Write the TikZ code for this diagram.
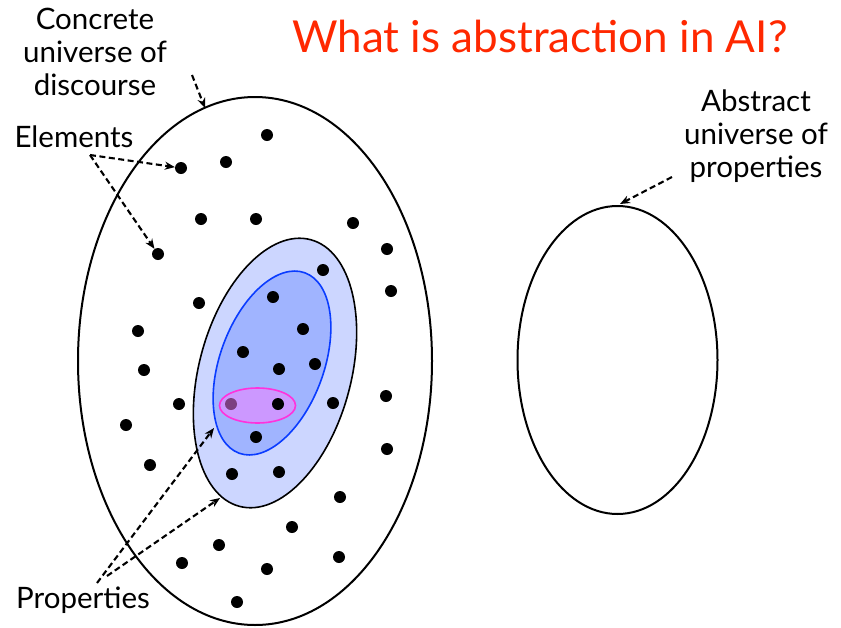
\documentclass[tikz,border=0pt]{standalone}
\usepackage{fontspec}
\setmainfont{Lato}
\usetikzlibrary{arrows.meta}

\definecolor{titlered}{RGB}{255,40,0}
\definecolor{outerprop}{RGB}{204,214,255}
\definecolor{innerprop}{RGB}{160,180,255}
\definecolor{innerline}{RGB}{10,60,255}
\definecolor{pinkline}{RGB}{255,50,220}
\definecolor{pinkfill}{RGB}{248,126,255}

\begin{document}
\begin{tikzpicture}[x=1pt,y=-1pt,>=Stealth,
  dot/.style={circle,fill=black,inner sep=0pt,minimum size=12pt},
  lbl/.style={align=center,font=\fontsize{29.5}{33}\selectfont},
  ptr/.style={-{Stealth[length=10pt,width=8pt]},line width=2.1pt,dash pattern=on 6pt off 3.5pt}]
  \useasboundingbox (0,0) rectangle (841,627);

  \node[text=titlered,font=\fontsize{44}{50}\selectfont] (title) at (540,36) {What is abstraction in AI?};

  % the two universes
  \draw[line width=2pt] (255,361) ellipse [x radius=177,y radius=264];
  \draw[line width=2pt] (617.5,360) ellipse [x radius=100,y radius=154];

  % nested properties
  \draw[line width=1.6pt,fill=outerprop,rotate around={-15:(275,373)}]
    (275,373) ellipse [x radius=76,y radius=138];
  \draw[line width=1.6pt,draw=innerline,fill=innerprop,rotate around={-20:(272,363)}]
    (272,363) ellipse [x radius=52,y radius=96];

  % elements
  \node[dot] (elemA) at (181,168) {};
  \node[dot] (elemB) at (158,254) {};
  \foreach \px/\py in {267/135,226/162,201/219,256/219,353/223,387/249,323/270,391/291,
      199/303,273/297,303/329,138/331,243/352,279/369,315/364,144/370,179/404,333/403,
      386/396,126/425,256/437,387/449,150/465,232/474,279/472,340/497,292/527,219/545,
      182/563,267/569,339/557,237/602}
    \node[dot] at (\px,\py) {};
  \node[dot] (underpink) at (231,404) {};
  \draw[line width=1.6pt,draw=pinkline,fill=pinkfill,fill opacity=0.5]
    (257.5,405.5) ellipse [x radius=38,y radius=17.5];
  \node[dot] (overpink) at (278,404) {};

  % labels
  \node[lbl] (concrete) at (95,52) {Concrete\\universe of\\discourse};
  \node[lbl] (elements) at (74,137) {Elements};
  \node[lbl] (properties) at (83,600) {Properties};
  \node[lbl] (abstract) at (756,136) {Abstract\\universe of\\properties};

  % pointers
  \coordinate (concreteout) at (192,75);
  \coordinate (concretein) at (205,108);
  \coordinate (elemout) at (90,155);
  \coordinate (propoutA) at (97,583);
  \coordinate (propoutB) at (107,576);
  \coordinate (propinA) at (214,428);
  \coordinate (propinB) at (220,498);
  \coordinate (abstractout) at (672,177);
  \coordinate (abstractin) at (620,204);
  \draw[ptr] (concreteout) -- (concretein);
  \draw[ptr] (elemout) -- (elemA);
  \draw[ptr] (elemout) -- (elemB);
  \draw[ptr] (propoutA) -- (propinA);
  \draw[ptr] (propoutB) -- (propinB);
  \draw[ptr] (abstractout) -- (abstractin);
\end{tikzpicture}
\end{document}
